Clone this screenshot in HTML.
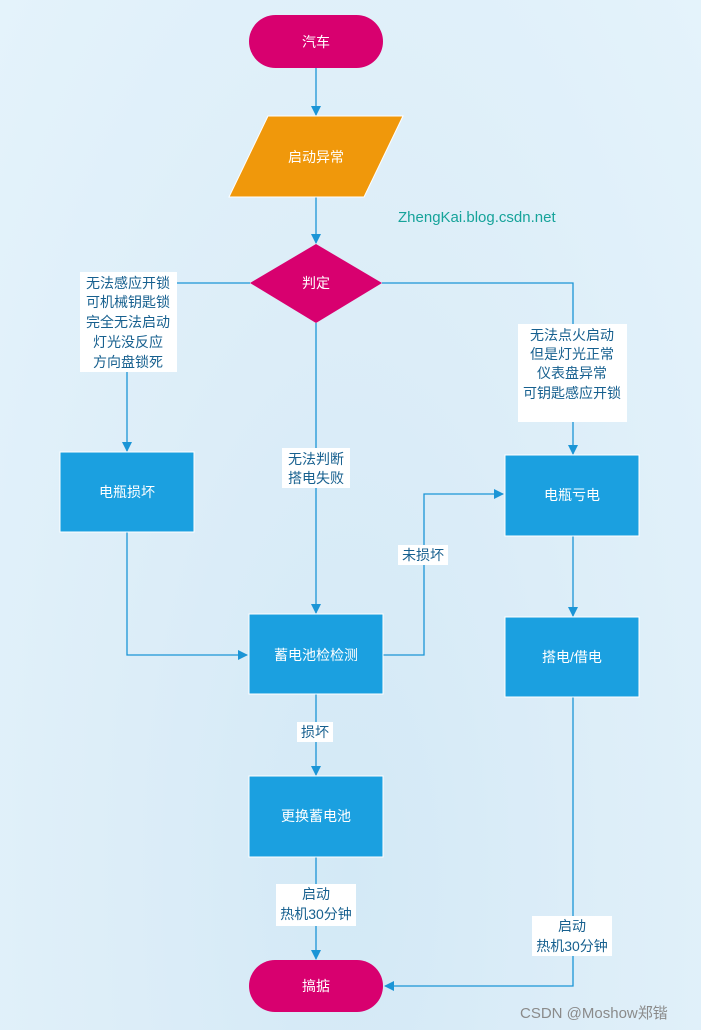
<!DOCTYPE html>
<html><head><meta charset="utf-8"><style>
html,body{margin:0;padding:0;}
body{width:701px;height:1030px;overflow:hidden;background:radial-gradient(ellipse at 50% 85%,#d3e9f6 0%,#dcedf8 45%,#e4f3fb 100%);}
svg{display:block;font-family:"Liberation Sans","Noto Sans CJK SC",sans-serif;}
.w{fill:#fff;font-size:14px;text-anchor:middle;}
.l{fill:#17608f;font-size:14px;text-anchor:middle;}
.ln{stroke:#1b95d6;stroke-width:1.3;fill:none;}
.bx{fill:#1ba0e0;stroke:#fff;stroke-width:1;}
</style></head><body>
<svg width="701" height="1030" viewBox="0 0 701 1030">
<defs><marker id="a" markerWidth="10" markerHeight="10" refX="9" refY="5" orient="auto" markerUnits="userSpaceOnUse"><path d="M0,0 L10,5 L0,10 z" fill="#1b95d6"/></marker></defs>
<!-- connectors -->
<path class="ln" d="M316,68 V115" marker-end="url(#a)"/>
<path class="ln" d="M316,197 V243" marker-end="url(#a)"/>
<path class="ln" d="M250,283 H127 V451" marker-end="url(#a)"/>
<path class="ln" d="M316,323 V613" marker-end="url(#a)"/>
<path class="ln" d="M382,283 H573 V454" marker-end="url(#a)"/>
<path class="ln" d="M127,532 V655 H247" marker-end="url(#a)"/>
<path class="ln" d="M383,655 H424 V494 H503" marker-end="url(#a)"/>
<path class="ln" d="M573,536 V616" marker-end="url(#a)"/>
<path class="ln" d="M573,697 V986 H385" marker-end="url(#a)"/>
<path class="ln" d="M316,694 V775" marker-end="url(#a)"/>
<path class="ln" d="M316,857 V959" marker-end="url(#a)"/>
<!-- shapes -->
<rect x="249" y="15" width="134" height="53" rx="26.5" fill="#d8006f"/>
<text class="w" x="316" y="47">汽车</text>
<polygon points="268,116 403,116 364,197 229,197" fill="#f0980b" stroke="#fff" stroke-width="1"/>
<text class="w" x="316" y="162">启动异常</text>
<polygon points="316,244 382,283 316,323 250,283" fill="#d8006f"/>
<text class="w" x="316" y="288">判定</text>
<text x="398" y="222" fill="#16a39a" font-size="15">ZhengKai.blog.csdn.net</text>
<rect class="bx" x="60" y="452" width="134" height="80"/>
<text class="w" x="127" y="497">电瓶损坏</text>
<rect class="bx" x="249" y="614" width="134" height="80"/>
<text class="w" x="316" y="660">蓄电池检检测</text>
<rect class="bx" x="505" y="455" width="134" height="81"/>
<text class="w" x="572" y="500">电瓶亏电</text>
<rect class="bx" x="505" y="617" width="134" height="80"/>
<text class="w" x="572" y="662">搭电/借电</text>
<rect class="bx" x="249" y="776" width="134" height="81"/>
<text class="w" x="316" y="821">更换蓄电池</text>
<rect x="249" y="960" width="134" height="52" rx="26" fill="#d8006f"/>
<text class="w" x="316" y="991">搞掂</text>
<!-- labels -->
<rect x="80" y="272" width="97" height="100" fill="#fff"/>
<text class="l" x="128" y="288">无法感应开锁</text>
<text class="l" x="128" y="307">可机械钥匙锁</text>
<text class="l" x="128" y="327">完全无法启动</text>
<text class="l" x="128" y="347">灯光没反应</text>
<text class="l" x="128" y="367">方向盘锁死</text>
<rect x="518" y="324" width="109" height="98" fill="#fff"/>
<text class="l" x="572" y="340">无法点火启动</text>
<text class="l" x="572" y="359">但是灯光正常</text>
<text class="l" x="572" y="378">仪表盘异常</text>
<text class="l" x="572" y="398">可钥匙感应开锁</text>
<rect x="282" y="448" width="68" height="40" fill="#fff"/>
<text class="l" x="316" y="464">无法判断</text>
<text class="l" x="316" y="483">搭电失败</text>
<rect x="398" y="545" width="50" height="20" fill="#fff"/>
<text class="l" x="423" y="560">未损坏</text>
<rect x="297" y="722" width="36" height="20" fill="#fff"/>
<text class="l" x="315" y="737">损坏</text>
<rect x="276" y="884" width="80" height="42" fill="#fff"/>
<text class="l" x="316" y="899">启动</text>
<text class="l" x="316" y="919">热机30分钟</text>
<rect x="532" y="916" width="80" height="40" fill="#fff"/>
<text class="l" x="572" y="931">启动</text>
<text class="l" x="572" y="951">热机30分钟</text>
<text x="520" y="1018" fill="#8a8a8a" font-size="15">CSDN @Moshow郑锴</text>
</svg>
</body></html>
